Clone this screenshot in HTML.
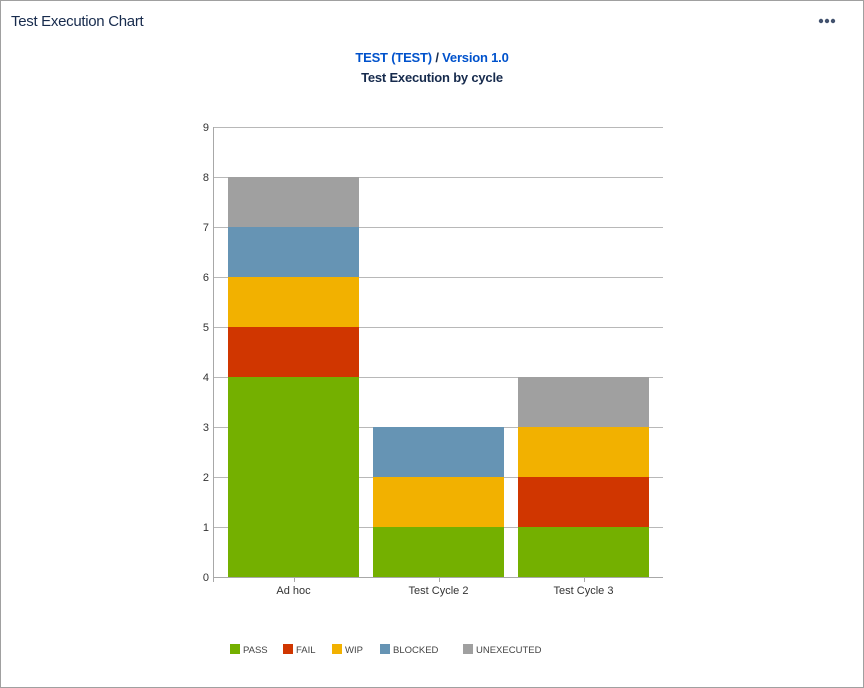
<!DOCTYPE html>
<html><head><meta charset="utf-8"><style>
body{margin:0;width:864px;height:688px;background:#fff;font-family:"Liberation Sans",sans-serif;overflow:hidden}
.frame{position:absolute;left:0;top:0;width:862px;height:686px;border:1px solid #a0a0a0}
</style></head><body>
<div class="frame"></div>
<div style="position:absolute;left:11px;top:13px;font-size:15px;color:#172b4d;letter-spacing:-0.3px">Test Execution Chart</div>
<svg style="position:absolute;left:818px;top:17px" width="20" height="8"><circle cx="3" cy="4" r="2.2" fill="#42526e"/><circle cx="9" cy="4" r="2.2" fill="#42526e"/><circle cx="15" cy="4" r="2.2" fill="#42526e"/></svg>
<div style="position:absolute;left:0;width:864px;top:50px;text-align:center;font-size:13px;font-weight:bold;color:#172b4d;letter-spacing:-0.2px"><span style="color:#0052cc">TEST (TEST)</span> / <span style="color:#0052cc">Version 1.0</span></div>
<div style="position:absolute;left:0;width:864px;top:70px;text-align:center;font-size:13px;font-weight:bold;color:#172b4d;letter-spacing:-0.2px">Test Execution by cycle</div>
<svg id="chart" width="864" height="688" style="position:absolute;left:0;top:0"></svg>
<script>
const categories=["Ad hoc","Test Cycle 2","Test Cycle 3"];
const seriesNames=["PASS","FAIL","WIP","BLOCKED","UNEXECUTED"];
const seriesColors=["#74b000","#d03600","#f2b100","#6694b4","#a0a0a0"];
const passVals=[4,1,1];
const failVals=[1,0,1];
const wipVals=[1,1,1];
const blockedVals=[1,1,0];
const unexecutedVals=[1,0,1];
const yTicks=[0,1,2,3,4,5,6,7,8,9];
const series=[passVals,failVals,wipVals,blockedVals,unexecutedVals];
const svg=document.getElementById('chart');const NS="http://www.w3.org/2000/svg";
const x0=213,x1=663,yb=577,yt=127,yMax=9;
const y=v=>yb-(yb-yt)*v/yMax;
const cx=i=>293.5+145*i;const bw=131;
function mk(t,a,p){const e=document.createElementNS(NS,t);for(const k in a)e.setAttribute(k,a[k]);(p||svg).appendChild(e);return e;}
yTicks.forEach(t=>{
 const g=mk('line',{x1:x0,x2:x1,y1:y(t)+.5,y2:y(t)+.5,stroke:t?'#b8b8b8':'#a8a8a8'});
 
 
 const l=mk('text',{x:209,y:y(t)+4,'text-anchor':'end','font-size':11,fill:'#333'});l.textContent=t;
 
 
});
const ya=mk('line',{x1:x0+.5,x2:x0+.5,y1:yt,y2:yb+5,stroke:'#a8a8a8'});


categories.forEach((c,i)=>{
 let acc=0;
 series.forEach((s,k)=>{
  const v=s[i];if(!v)return;
  const r=mk('rect',{x:cx(i)-bw/2,y:y(acc+v),width:bw,height:y(acc)-y(acc+v),fill:seriesColors[k]});
  
  
  acc+=v;
 });
 const tk=mk('line',{x1:Math.round(cx(i))+.5,x2:Math.round(cx(i))+.5,y1:yb,y2:yb+5,stroke:'#a8a8a8'});
 
 
 const l=mk('text',{x:cx(i),y:yb+17,'text-anchor':'middle','font-size':11,fill:'#333'});l.textContent=c;
 
 
});
const lx=[230,283,332,380,463];
seriesNames.forEach((n,k)=>{
 const g=mk('g',{});
 
 
 mk('rect',{x:lx[k],y:644,width:10,height:10,fill:seriesColors[k]},g);
 const t=mk('text',{x:lx[k]+13,y:653,'font-size':9.5,fill:'#444'},g);t.textContent=n;
});
</script>
</body></html>
